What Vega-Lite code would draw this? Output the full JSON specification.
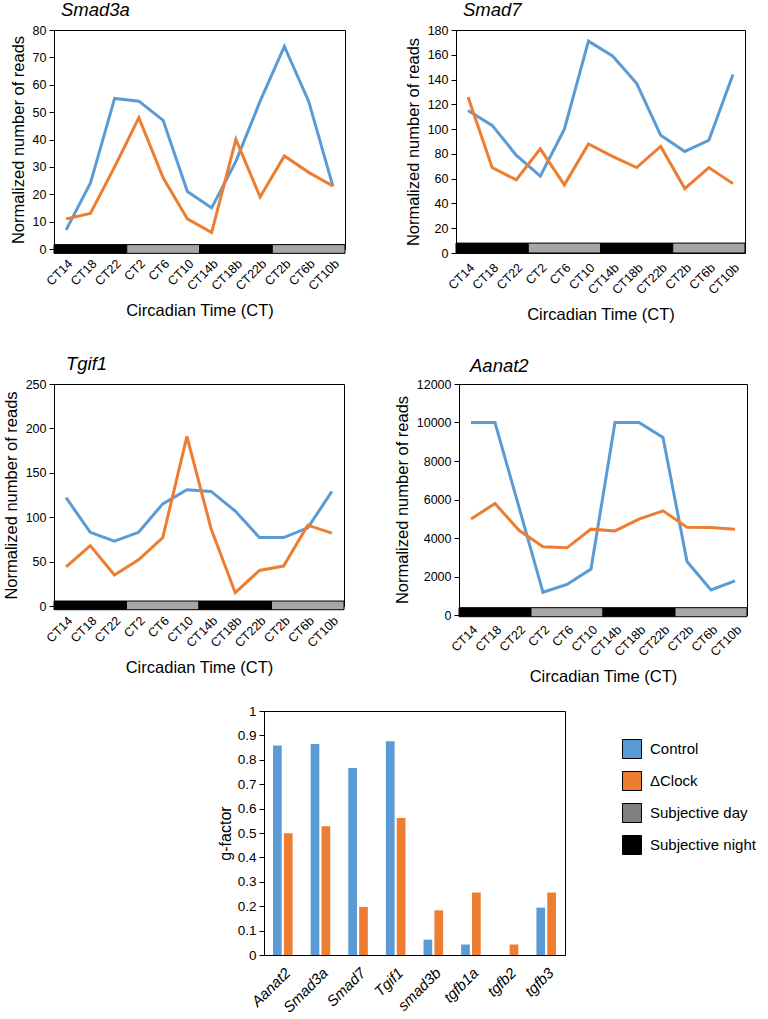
{
  "$schema": "https://vega.github.io/schema/vega-lite/v6.json",
  "padding": {"left": 2, "top": 0, "right": 0, "bottom": 0},
  "background": "white",
  "config": {
    "font": "Liberation Sans",
    "view": {"stroke": "#000", "strokeWidth": 1},
    "axis": {"grid": false, "labelColor": "#000", "titleColor": "#000", "tickColor": "#000", "domainColor": "#000", "labelFont": "Liberation Sans", "titleFont": "Liberation Sans", "titleFontWeight": "normal", "labelFontSize": 12.5, "titleFontSize": 16.5, "tickSize": 5, "labelPadding": 3},
    "title": {"font": "Liberation Sans", "fontSize": 18.5, "fontStyle": "italic", "fontWeight": "normal", "anchor": "start", "frame": "group", "offset": 5, "baseline": "alphabetic", "color": "#000"}
  },
  "resolve": {"scale": {"color": "independent"}, "legend": {"color": "independent"}},
  "datasets": {
    "series": [
      {"gene": "Smad3a", "ct": "CT14", "group": "Control", "value": 7},
      {"gene": "Smad3a", "ct": "CT18", "group": "Control", "value": 24},
      {"gene": "Smad3a", "ct": "CT22", "group": "Control", "value": 55},
      {"gene": "Smad3a", "ct": "CT2", "group": "Control", "value": 54},
      {"gene": "Smad3a", "ct": "CT6", "group": "Control", "value": 47},
      {"gene": "Smad3a", "ct": "CT10", "group": "Control", "value": 21},
      {"gene": "Smad3a", "ct": "CT14b", "group": "Control", "value": 15},
      {"gene": "Smad3a", "ct": "CT18b", "group": "Control", "value": 32},
      {"gene": "Smad3a", "ct": "CT22b", "group": "Control", "value": 54},
      {"gene": "Smad3a", "ct": "CT2b", "group": "Control", "value": 74},
      {"gene": "Smad3a", "ct": "CT6b", "group": "Control", "value": 54},
      {"gene": "Smad3a", "ct": "CT10b", "group": "Control", "value": 23},
      {"gene": "Smad3a", "ct": "CT14", "group": "ΔClock", "value": 11},
      {"gene": "Smad3a", "ct": "CT18", "group": "ΔClock", "value": 13},
      {"gene": "Smad3a", "ct": "CT22", "group": "ΔClock", "value": 30},
      {"gene": "Smad3a", "ct": "CT2", "group": "ΔClock", "value": 48},
      {"gene": "Smad3a", "ct": "CT6", "group": "ΔClock", "value": 26},
      {"gene": "Smad3a", "ct": "CT10", "group": "ΔClock", "value": 11},
      {"gene": "Smad3a", "ct": "CT14b", "group": "ΔClock", "value": 6},
      {"gene": "Smad3a", "ct": "CT18b", "group": "ΔClock", "value": 40},
      {"gene": "Smad3a", "ct": "CT22b", "group": "ΔClock", "value": 19},
      {"gene": "Smad3a", "ct": "CT2b", "group": "ΔClock", "value": 34},
      {"gene": "Smad3a", "ct": "CT6b", "group": "ΔClock", "value": 28},
      {"gene": "Smad3a", "ct": "CT10b", "group": "ΔClock", "value": 23},
      {"gene": "Smad7", "ct": "CT14", "group": "Control", "value": 115},
      {"gene": "Smad7", "ct": "CT18", "group": "Control", "value": 103},
      {"gene": "Smad7", "ct": "CT22", "group": "Control", "value": 79},
      {"gene": "Smad7", "ct": "CT2", "group": "Control", "value": 62},
      {"gene": "Smad7", "ct": "CT6", "group": "Control", "value": 100},
      {"gene": "Smad7", "ct": "CT10", "group": "Control", "value": 171},
      {"gene": "Smad7", "ct": "CT14b", "group": "Control", "value": 159},
      {"gene": "Smad7", "ct": "CT18b", "group": "Control", "value": 137},
      {"gene": "Smad7", "ct": "CT22b", "group": "Control", "value": 95},
      {"gene": "Smad7", "ct": "CT2b", "group": "Control", "value": 82},
      {"gene": "Smad7", "ct": "CT6b", "group": "Control", "value": 91},
      {"gene": "Smad7", "ct": "CT10b", "group": "Control", "value": 144},
      {"gene": "Smad7", "ct": "CT14", "group": "ΔClock", "value": 126},
      {"gene": "Smad7", "ct": "CT18", "group": "ΔClock", "value": 69},
      {"gene": "Smad7", "ct": "CT22", "group": "ΔClock", "value": 59},
      {"gene": "Smad7", "ct": "CT2", "group": "ΔClock", "value": 84},
      {"gene": "Smad7", "ct": "CT6", "group": "ΔClock", "value": 55},
      {"gene": "Smad7", "ct": "CT10", "group": "ΔClock", "value": 88},
      {"gene": "Smad7", "ct": "CT14b", "group": "ΔClock", "value": 78},
      {"gene": "Smad7", "ct": "CT18b", "group": "ΔClock", "value": 69},
      {"gene": "Smad7", "ct": "CT22b", "group": "ΔClock", "value": 86},
      {"gene": "Smad7", "ct": "CT2b", "group": "ΔClock", "value": 52},
      {"gene": "Smad7", "ct": "CT6b", "group": "ΔClock", "value": 69},
      {"gene": "Smad7", "ct": "CT10b", "group": "ΔClock", "value": 56},
      {"gene": "Tgif1", "ct": "CT14", "group": "Control", "value": 122},
      {"gene": "Tgif1", "ct": "CT18", "group": "Control", "value": 83},
      {"gene": "Tgif1", "ct": "CT22", "group": "Control", "value": 73},
      {"gene": "Tgif1", "ct": "CT2", "group": "Control", "value": 83},
      {"gene": "Tgif1", "ct": "CT6", "group": "Control", "value": 115},
      {"gene": "Tgif1", "ct": "CT10", "group": "Control", "value": 131},
      {"gene": "Tgif1", "ct": "CT14b", "group": "Control", "value": 129},
      {"gene": "Tgif1", "ct": "CT18b", "group": "Control", "value": 107},
      {"gene": "Tgif1", "ct": "CT22b", "group": "Control", "value": 77},
      {"gene": "Tgif1", "ct": "CT2b", "group": "Control", "value": 77},
      {"gene": "Tgif1", "ct": "CT6b", "group": "Control", "value": 88},
      {"gene": "Tgif1", "ct": "CT10b", "group": "Control", "value": 129},
      {"gene": "Tgif1", "ct": "CT14", "group": "ΔClock", "value": 44},
      {"gene": "Tgif1", "ct": "CT18", "group": "ΔClock", "value": 68},
      {"gene": "Tgif1", "ct": "CT22", "group": "ΔClock", "value": 35},
      {"gene": "Tgif1", "ct": "CT2", "group": "ΔClock", "value": 52},
      {"gene": "Tgif1", "ct": "CT6", "group": "ΔClock", "value": 77},
      {"gene": "Tgif1", "ct": "CT10", "group": "ΔClock", "value": 191},
      {"gene": "Tgif1", "ct": "CT14b", "group": "ΔClock", "value": 87},
      {"gene": "Tgif1", "ct": "CT18b", "group": "ΔClock", "value": 15},
      {"gene": "Tgif1", "ct": "CT22b", "group": "ΔClock", "value": 40},
      {"gene": "Tgif1", "ct": "CT2b", "group": "ΔClock", "value": 45},
      {"gene": "Tgif1", "ct": "CT6b", "group": "ΔClock", "value": 91},
      {"gene": "Tgif1", "ct": "CT10b", "group": "ΔClock", "value": 82},
      {"gene": "Aanat2", "ct": "CT14", "group": "Control", "value": 10000},
      {"gene": "Aanat2", "ct": "CT18", "group": "Control", "value": 10000},
      {"gene": "Aanat2", "ct": "CT22", "group": "Control", "value": 5600},
      {"gene": "Aanat2", "ct": "CT2", "group": "Control", "value": 1180},
      {"gene": "Aanat2", "ct": "CT6", "group": "Control", "value": 1590},
      {"gene": "Aanat2", "ct": "CT10", "group": "Control", "value": 2390},
      {"gene": "Aanat2", "ct": "CT14b", "group": "Control", "value": 10000},
      {"gene": "Aanat2", "ct": "CT18b", "group": "Control", "value": 10000},
      {"gene": "Aanat2", "ct": "CT22b", "group": "Control", "value": 9220},
      {"gene": "Aanat2", "ct": "CT2b", "group": "Control", "value": 2780},
      {"gene": "Aanat2", "ct": "CT6b", "group": "Control", "value": 1300},
      {"gene": "Aanat2", "ct": "CT10b", "group": "Control", "value": 1770},
      {"gene": "Aanat2", "ct": "CT14", "group": "ΔClock", "value": 4990},
      {"gene": "Aanat2", "ct": "CT18", "group": "ΔClock", "value": 5790},
      {"gene": "Aanat2", "ct": "CT22", "group": "ΔClock", "value": 4400},
      {"gene": "Aanat2", "ct": "CT2", "group": "ΔClock", "value": 3550},
      {"gene": "Aanat2", "ct": "CT6", "group": "ΔClock", "value": 3490},
      {"gene": "Aanat2", "ct": "CT10", "group": "ΔClock", "value": 4460},
      {"gene": "Aanat2", "ct": "CT14b", "group": "ΔClock", "value": 4370},
      {"gene": "Aanat2", "ct": "CT18b", "group": "ΔClock", "value": 4980},
      {"gene": "Aanat2", "ct": "CT22b", "group": "ΔClock", "value": 5410},
      {"gene": "Aanat2", "ct": "CT2b", "group": "ΔClock", "value": 4560},
      {"gene": "Aanat2", "ct": "CT6b", "group": "ΔClock", "value": 4550},
      {"gene": "Aanat2", "ct": "CT10b", "group": "ΔClock", "value": 4450}
    ],
    "phases": [
      {"phase": "Subjective night", "start": "CT14", "end": "CT22"},
      {"phase": "Subjective day", "start": "CT2", "end": "CT10"},
      {"phase": "Subjective night", "start": "CT14b", "end": "CT22b"},
      {"phase": "Subjective day", "start": "CT2b", "end": "CT10b"}
    ],
    "gfactor": [
      {"gene": "Aanat2", "group": "Control", "g": 0.859},
      {"gene": "Aanat2", "group": "ΔClock", "g": 0.499},
      {"gene": "Smad3a", "group": "Control", "g": 0.865},
      {"gene": "Smad3a", "group": "ΔClock", "g": 0.528},
      {"gene": "Smad7", "group": "Control", "g": 0.766},
      {"gene": "Smad7", "group": "ΔClock", "g": 0.197},
      {"gene": "Tgif1", "group": "Control", "g": 0.876},
      {"gene": "Tgif1", "group": "ΔClock", "g": 0.561},
      {"gene": "smad3b", "group": "Control", "g": 0.063},
      {"gene": "smad3b", "group": "ΔClock", "g": 0.183},
      {"gene": "tgfb1a", "group": "Control", "g": 0.043},
      {"gene": "tgfb1a", "group": "ΔClock", "g": 0.256},
      {"gene": "tgfb2", "group": "Control", "g": 0},
      {"gene": "tgfb2", "group": "ΔClock", "g": 0.043},
      {"gene": "tgfb3", "group": "Control", "g": 0.194},
      {"gene": "tgfb3", "group": "ΔClock", "g": 0.256}
    ]
  },
  "vconcat": [
    {
      "vconcat": [
        {
          "hconcat": [
            {
              "title": {"text": "Smad3a", "dx": 7},
              "width": 291, "height": 219,
              "encoding": {
                "x": {"field": "ct", "type": "nominal", "title": "Circadian Time (CT)",
                  "scale": {"type": "band", "domain": ["CT14","CT18","CT22","CT2","CT6","CT10","CT14b","CT18b","CT22b","CT2b","CT6b","CT10b"], "paddingInner": 0, "paddingOuter": 0},
                  "axis": {"labelAngle": -45, "ticks": false, "domain": false, "labelPadding": 8, "titlePadding": 10}}
              },
              "layer": [
                {
                  "data": {"name": "phases"},
                  "mark": {"type": "rect", "stroke": "#000", "strokeWidth": 1, "clip": false},
                  "encoding": {
                    "x": {"field": "start", "type": "nominal", "bandPosition": 0},
                    "x2": {"field": "end", "bandPosition": 1},
                    "y": {"datum": -1.6, "type": "quantitative", "scale": {"domain": [0, 80], "nice": false, "zero": false}, "title": "Normalized number of reads", "axis": {"values": [0,10,20,30,40,50,60,70,80], "titlePadding": 6}},
                    "y2": {"datum": 1.6},
                    "fill": {"field": "phase", "type": "nominal", "scale": {"domain": ["Subjective night", "Subjective day"], "range": ["#000000", "#a6a6a6"]}, "legend": null}
                  }
                },
                {
                  "data": {"name": "series"},
                  "transform": [{"filter": "datum.gene === 'Smad3a'"}],
                  "mark": {"type": "line", "strokeWidth": 3},
                  "encoding": {
                    "y": {"field": "value", "type": "quantitative", "scale": {"domain": [0, 80], "nice": false, "zero": false}, "title": "Normalized number of reads", "axis": {"values": [0,10,20,30,40,50,60,70,80], "titlePadding": 6}},
                    "stroke": {"field": "group", "type": "nominal", "scale": {"domain": ["Control", "ΔClock"], "range": ["#5B9BD5", "#ED7D31"]}, "legend": null}
                  }
                }
              ]
            },
            {
              "title": {"text": "Smad7", "dx": 7},
              "width": 289, "height": 223,
              "encoding": {
                "x": {"field": "ct", "type": "nominal", "title": "Circadian Time (CT)",
                  "scale": {"type": "band", "domain": ["CT14","CT18","CT22","CT2","CT6","CT10","CT14b","CT18b","CT22b","CT2b","CT6b","CT10b"], "paddingInner": 0, "paddingOuter": 0},
                  "axis": {"labelAngle": -45, "ticks": false, "domain": false, "labelPadding": 8, "titlePadding": 10}}
              },
              "layer": [
                {
                  "data": {"name": "phases"},
                  "mark": {"type": "rect", "stroke": "#000", "strokeWidth": 1, "clip": false},
                  "encoding": {
                    "x": {"field": "start", "type": "nominal", "bandPosition": 0},
                    "x2": {"field": "end", "bandPosition": 1},
                    "y": {"datum": 0, "type": "quantitative", "scale": {"domain": [0, 180], "nice": false, "zero": false}, "title": "Normalized number of reads", "axis": {"values": [0,20,40,60,80,100,120,140,160,180], "titlePadding": 6}},
                    "y2": {"datum": 8},
                    "fill": {"field": "phase", "type": "nominal", "scale": {"domain": ["Subjective night", "Subjective day"], "range": ["#000000", "#a6a6a6"]}, "legend": null}
                  }
                },
                {
                  "data": {"name": "series"},
                  "transform": [{"filter": "datum.gene === 'Smad7'"}],
                  "mark": {"type": "line", "strokeWidth": 3},
                  "encoding": {
                    "y": {"field": "value", "type": "quantitative", "scale": {"domain": [0, 180], "nice": false, "zero": false}, "title": "Normalized number of reads", "axis": {"values": [0,20,40,60,80,100,120,140,160,180], "titlePadding": 6}},
                    "stroke": {"field": "group", "type": "nominal", "scale": {"domain": ["Control", "ΔClock"], "range": ["#5B9BD5", "#ED7D31"]}, "legend": null}
                  }
                }
              ]
            }
          ],
          "spacing": 58
        },
        {
          "hconcat": [
            {
              "title": {"text": "Tgif1", "dx": 12},
              "width": 290, "height": 222,
              "encoding": {
                "x": {"field": "ct", "type": "nominal", "title": "Circadian Time (CT)",
                  "scale": {"type": "band", "domain": ["CT14","CT18","CT22","CT2","CT6","CT10","CT14b","CT18b","CT22b","CT2b","CT6b","CT10b"], "paddingInner": 0, "paddingOuter": 0},
                  "axis": {"labelAngle": -45, "ticks": false, "domain": false, "labelPadding": 8, "titlePadding": 10}}
              },
              "layer": [
                {
                  "data": {"name": "phases"},
                  "mark": {"type": "rect", "stroke": "#000", "strokeWidth": 1, "clip": false},
                  "encoding": {
                    "x": {"field": "start", "type": "nominal", "bandPosition": 0},
                    "x2": {"field": "end", "bandPosition": 1},
                    "y": {"datum": -4.2, "type": "quantitative", "scale": {"domain": [0, 250], "nice": false, "zero": false}, "title": "Normalized number of reads", "axis": {"values": [0,50,100,150,200,250], "titlePadding": 6}},
                    "y2": {"datum": 5.6},
                    "fill": {"field": "phase", "type": "nominal", "scale": {"domain": ["Subjective night", "Subjective day"], "range": ["#000000", "#a6a6a6"]}, "legend": null}
                  }
                },
                {
                  "data": {"name": "series"},
                  "transform": [{"filter": "datum.gene === 'Tgif1'"}],
                  "mark": {"type": "line", "strokeWidth": 3},
                  "encoding": {
                    "y": {"field": "value", "type": "quantitative", "scale": {"domain": [0, 250], "nice": false, "zero": false}, "title": "Normalized number of reads", "axis": {"values": [0,50,100,150,200,250], "titlePadding": 6}},
                    "stroke": {"field": "group", "type": "nominal", "scale": {"domain": ["Control", "ΔClock"], "range": ["#5B9BD5", "#ED7D31"]}, "legend": null}
                  }
                }
              ]
            },
            {
              "title": {"text": "Aanat2", "dx": 11, "offset": 3},
              "width": 288, "height": 231,
              "encoding": {
                "x": {"field": "ct", "type": "nominal", "title": "Circadian Time (CT)",
                  "scale": {"type": "band", "domain": ["CT14","CT18","CT22","CT2","CT6","CT10","CT14b","CT18b","CT22b","CT2b","CT6b","CT10b"], "paddingInner": 0, "paddingOuter": 0},
                  "axis": {"labelAngle": -45, "ticks": false, "domain": false, "labelPadding": 8, "titlePadding": 10}}
              },
              "layer": [
                {
                  "data": {"name": "phases"},
                  "mark": {"type": "rect", "stroke": "#000", "strokeWidth": 1, "clip": false},
                  "encoding": {
                    "x": {"field": "start", "type": "nominal", "bandPosition": 0},
                    "x2": {"field": "end", "bandPosition": 1},
                    "y": {"datum": -90, "type": "quantitative", "scale": {"domain": [0, 12000], "nice": false, "zero": false}, "title": "Normalized number of reads", "axis": {"values": [0,2000,4000,6000,8000,10000,12000], "format": "d", "titlePadding": 6}},
                    "y2": {"datum": 380},
                    "fill": {"field": "phase", "type": "nominal", "scale": {"domain": ["Subjective night", "Subjective day"], "range": ["#000000", "#a6a6a6"]}, "legend": null}
                  }
                },
                {
                  "data": {"name": "series"},
                  "transform": [{"filter": "datum.gene === 'Aanat2'"}],
                  "mark": {"type": "line", "strokeWidth": 3},
                  "encoding": {
                    "y": {"field": "value", "type": "quantitative", "scale": {"domain": [0, 12000], "nice": false, "zero": false}, "title": "Normalized number of reads", "axis": {"values": [0,2000,4000,6000,8000,10000,12000], "format": "d", "titlePadding": 6}},
                    "stroke": {"field": "group", "type": "nominal", "scale": {"domain": ["Control", "ΔClock"], "range": ["#5B9BD5", "#ED7D31"]}, "legend": null}
                  }
                }
              ]
            }
          ],
          "spacing": 47
        }
      ],
      "spacing": 30
    },
    {
      "resolve": {"scale": {"color": "independent"}, "legend": {"color": "independent"}},
      "hconcat": [
        {
          "width": 142, "height": 10,
          "view": {"stroke": null},
          "data": {"values": []},
          "mark": "point"
        },
        {
          "width": 301, "height": 244,
          "data": {"name": "gfactor"},
          "mark": {"type": "bar"},
          "encoding": {
            "x": {"field": "gene", "type": "nominal", "title": null,
              "scale": {"domain": ["Aanat2","Smad3a","Smad7","Tgif1","smad3b","tgfb1a","tgfb2","tgfb3"], "paddingInner": 0.48, "paddingOuter": 0.24},
              "axis": {"labelAngle": -45, "ticks": false, "labelFontStyle": "italic", "labelFontSize": 15, "labelPadding": 10}},
            "xOffset": {"field": "group", "type": "nominal", "scale": {"domain": ["Control", "ΔClock"], "paddingInner": 0.2}},
            "y": {"field": "g", "type": "quantitative", "title": "g-factor",
              "scale": {"domain": [0, 1], "nice": false},
              "axis": {"values": [0,0.1,0.2,0.3,0.4,0.5,0.6,0.7,0.8,0.9,1], "format": "~g", "labelFontSize": 13.5, "titleFontSize": 16, "titlePadding": 4}},
            "color": {"field": "group", "type": "nominal",
              "scale": {"domain": ["Control", "ΔClock", "Subjective day", "Subjective night"], "range": ["#5B9BD5", "#ED7D31", "#7F7F7F", "#000000"]},
              "legend": {"title": null, "orient": "none", "legendX": 358, "legendY": 28, "padding": 0, "symbolType": "square", "symbolSize": 361, "symbolStrokeColor": "#000", "symbolStrokeWidth": 1, "symbolOpacity": 1, "labelFontSize": 15, "labelFont": "Liberation Sans", "labelColor": "#000", "rowPadding": 8, "labelOffset": 8, "labelLimit": 300}}
          }
        }
      ],
      "spacing": 20
    }
  ],
  "spacing": 17
}
